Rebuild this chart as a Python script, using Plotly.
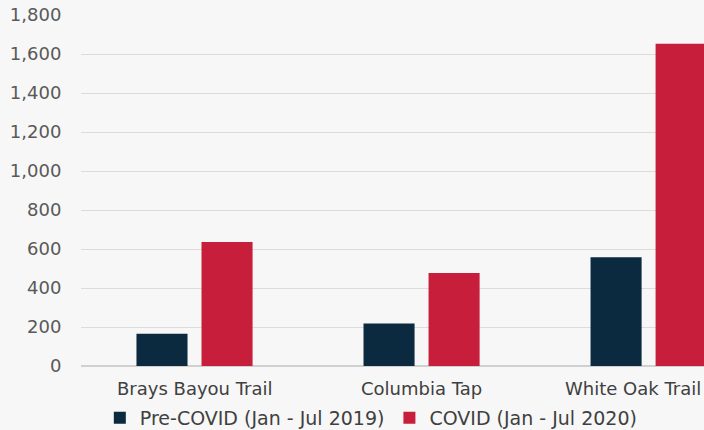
import plotly.graph_objects as go

categories = ["Brays Bayou Trail", "Columbia Tap", "White Oak Trail"]
pre_covid = [165, 218, 558]
covid = [636, 477, 1652]
series_names = ["Pre-COVID (Jan - Jul 2019)", "COVID (Jan - Jul 2020)"]
tick_vals = list(range(0, 2000, 200))
label_shift = [0, 0, -16]

FONT = "DejaVu Sans, sans-serif"

fig = go.Figure()
fig.add_trace(go.Bar(x=categories, y=pre_covid, name=series_names[0],
                     marker=dict(color="#0b2a40", line=dict(width=0))))
fig.add_trace(go.Bar(x=categories, y=covid, name=series_names[1],
                     marker=dict(color="#c71f3b", line=dict(width=0))))

for cat, sh in zip(categories, label_shift):
    fig.add_annotation(x=cat, y=0, xref="x", yref="y", text=cat, showarrow=False,
                       yanchor="middle", yshift=-22, xshift=sh,
                       font=dict(family=FONT, size=18, color="#404040"))

fig.update_layout(
    width=704, height=430,
    margin=dict(l=81, r=0, t=15, b=64, autoexpand=False),
    paper_bgcolor="#f7f7f7", plot_bgcolor="#f7f7f7",
    barmode="group", bargap=0.427, bargroupgap=0.215,
    font=dict(family=FONT, size=18, color="#404040"),
    showlegend=True,
    legend=dict(orientation="h", x=0.466, xanchor="center", y=-0.148, yanchor="middle",
                font=dict(family=FONT, size=19, color="#404040"), itemwidth=30,
                tracegroupgap=0, bgcolor="rgba(0,0,0,0)"),
    xaxis=dict(range=[-0.5, 2.244], showgrid=False, showline=False, ticks="",
               showticklabels=False),
    yaxis=dict(range=[0, 1800], tickvals=tick_vals, tickformat=",d",
               gridcolor="#dcdcdc", gridwidth=1, zeroline=True, zerolinecolor="#d0d0d0",
               ticks="outside", ticklen=15, tickcolor="rgba(0,0,0,0)",
               tickfont=dict(family=FONT, size=18, color="#595959")),
)

fig.write_html("out.html", config={"displayModeBar": False},
               post_script="document.body.style.margin='0';document.body.style.overflow='hidden';")
